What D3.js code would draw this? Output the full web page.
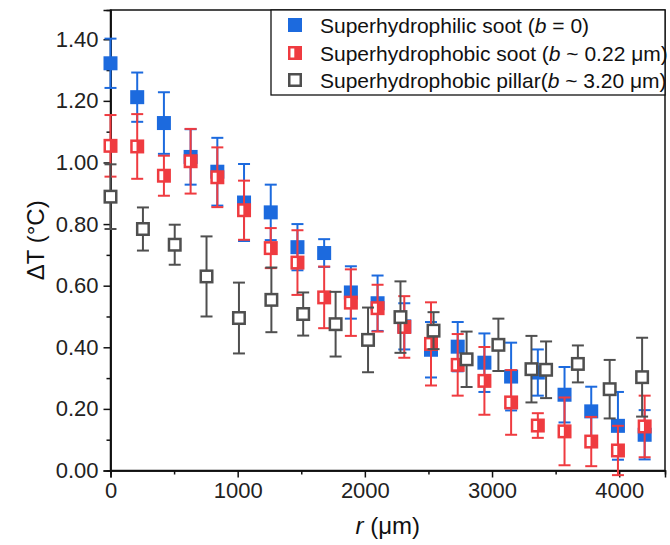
<!DOCTYPE html>
<html>
<head>
<meta charset="utf-8">
<script src="https://cdn.jsdelivr.net/npm/d3@7"></script>
<style>
  html, body { margin: 0; padding: 0; background: #fff; }
  svg { display: block; }
  text { font-family: "Liberation Sans", Arial, Helvetica, sans-serif; }
</style>
</head>
<body>
<svg id="chart" width="670" height="545"></svg>
<script>
// Radial position r (µm) for the soot samples and the pillar sample
const xSoot = [0, 210, 420, 630, 840, 1050, 1260, 1470, 1680, 1890, 2100,
               2310, 2520, 2730, 2940, 3150, 3360, 3570, 3780, 3990, 4200];
const xPillar = [0, 255, 505, 755, 1010, 1265, 1515, 1770, 2025, 2280, 2540,
                 2800, 3050, 3310, 3425, 3675, 3925, 4180];

// ΔT (°C) and error half-widths
const philicSoot = [1.322, 1.212, 1.128, 1.018, 0.970, 0.870, 0.838, 0.725, 0.706, 0.578, 0.543,
                    0.468, 0.392, 0.402, 0.350, 0.305, 0.318, 0.246, 0.192, 0.145, 0.116];
const philicSootErr = [0.08, 0.08, 0.10, 0.09, 0.11, 0.125, 0.09, 0.075, 0.045, 0.085, 0.09,
                       0.075, 0.09, 0.08, 0.095, 0.11, 0.075, 0.09, 0.08, 0.11, 0.08];

const phobicSoot = [1.054, 1.052, 0.957, 1.004, 0.952, 0.845, 0.722, 0.675, 0.562, 0.545, 0.527,
                    0.466, 0.411, 0.343, 0.291, 0.221, 0.146, 0.127, 0.094, 0.065, 0.143];
const phobicSootErr = [0.10, 0.105, 0.065, 0.105, 0.097, 0.096, 0.065, 0.105, 0.10, 0.108, 0.076,
                       0.10, 0.135, 0.10, 0.11, 0.105, 0.04, 0.11, 0.08, 0.08, 0.10];

const phobicPillar = [0.889, 0.784, 0.733, 0.630, 0.495, 0.554, 0.508, 0.475, 0.424, 0.498,
                      0.454, 0.361, 0.408, 0.329, 0.327, 0.346, 0.264, 0.303];
const phobicPillarErr = [0.105, 0.07, 0.065, 0.13, 0.115, 0.105, 0.07, 0.105, 0.105, 0.116,
                         0.06, 0.09, 0.085, 0.108, 0.092, 0.06, 0.095, 0.128];

const xTicks = [0, 1000, 2000, 3000, 4000];
const xMinorTicks = [500, 1500, 2500, 3500];
const yTicks = [0, 0.2, 0.4, 0.6, 0.8, 1.0, 1.2, 1.4];
const yMinorTicks = [0.1, 0.3, 0.5, 0.7, 0.9, 1.1, 1.3];

const BLUE = "#1c6ade";
const RED = "#ef3b40";
const GRAY = "#4f4f4f";

const svg = d3.select("#chart");
const plotL = 110.5, plotR = 665, plotT = 10, plotB = 470.5;

const x = d3.scaleLinear().domain([0, 4360]).range([plotL, plotR]);
const y = d3.scaleLinear().domain([0, 1.495]).range([plotB, plotT]);

// Frame
svg.append("rect")
  .attr("x", plotL).attr("y", plotT)
  .attr("width", plotR - plotL).attr("height", plotB - plotT)
  .attr("fill", "none").attr("stroke", "#111").attr("stroke-width", 1.5);

// Axes
const axisStyle = g => {
  g.select(".domain").attr("stroke", "#111").attr("stroke-width", 1.5);
  g.selectAll(".tick line").attr("stroke", "#111").attr("stroke-width", 1.5);
  g.selectAll(".tick text").attr("fill", "#222").style("font-size", "22px");
};

svg.append("g")
  .attr("transform", `translate(0,${plotB})`)
  .call(d3.axisBottom(x).tickValues(xMinorTicks).tickSize(4).tickFormat(""))
  .call(axisStyle);
svg.append("g")
  .attr("transform", `translate(0,${plotB})`)
  .call(d3.axisBottom(x).tickValues(xTicks).tickSize(7).tickPadding(5).tickFormat(d3.format("d")))
  .call(axisStyle);

svg.append("g")
  .attr("transform", `translate(${plotL},0)`)
  .call(d3.axisLeft(y).tickValues(yMinorTicks).tickSize(4).tickFormat(""))
  .call(axisStyle);
svg.append("g")
  .attr("transform", `translate(${plotL},0)`)
  .call(d3.axisLeft(y).tickValues(yTicks).tickSize(7).tickPadding(5).tickFormat(d3.format(".2f")))
  .call(axisStyle);

// Axis titles
svg.append("text")
  .attr("transform", `translate(44,${(plotT + plotB) / 2}) rotate(-90)`)
  .attr("text-anchor", "middle")
  .attr("fill", "#111")
  .style("font-size", "24px")
  .text("ΔT (°C)");

const xTitle = svg.append("text")
  .attr("x", (plotL + plotR) / 2).attr("y", 534)
  .attr("text-anchor", "middle")
  .attr("fill", "#111")
  .style("font-size", "24px");
xTitle.append("tspan").style("font-style", "italic").text("r");
xTitle.append("tspan").text(" (μm)");

// Series
const MS = 14;     // marker side
const CAP = 12;    // error cap width

function errorBars(xs, ys, es, color) {
  const g = svg.append("g").attr("stroke", color).attr("stroke-width", 2).attr("fill", "none");
  const data = xs.map((d, i) => ({ x: d, y: ys[i], e: es[i] }));
  g.selectAll("line.v").data(data).join("line")
    .attr("x1", d => x(d.x)).attr("x2", d => x(d.x))
    .attr("y1", d => y(d.y + d.e)).attr("y2", d => y(d.y - d.e));
  g.selectAll("line.t").data(data).join("line")
    .attr("x1", d => x(d.x) - CAP / 2).attr("x2", d => x(d.x) + CAP / 2)
    .attr("y1", d => y(d.y + d.e)).attr("y2", d => y(d.y + d.e));
  g.selectAll("line.b").data(data).join("line")
    .attr("x1", d => x(d.x) - CAP / 2).attr("x2", d => x(d.x) + CAP / 2)
    .attr("y1", d => y(d.y - d.e)).attr("y2", d => y(d.y - d.e));
  return data;
}

function filledSquare(g, cx, cy, color) {
  g.append("rect")
    .attr("x", cx - MS / 2).attr("y", cy - MS / 2)
    .attr("width", MS).attr("height", MS)
    .attr("fill", color);
}

function halfSquare(g, cx, cy, color) {
  g.append("rect")
    .attr("x", cx - MS / 2).attr("y", cy - MS / 2)
    .attr("width", MS).attr("height", MS)
    .attr("fill", color);
  g.append("rect")
    .attr("x", cx - MS / 2 + 2.5).attr("y", cy - MS / 2 + 2.5)
    .attr("width", MS / 2 - 3.2).attr("height", MS - 5)
    .attr("fill", "#fff");
}

function openSquare(g, cx, cy, color) {
  g.append("rect")
    .attr("x", cx - MS / 2 + 1.25).attr("y", cy - MS / 2 + 1.25)
    .attr("width", MS - 2.5).attr("height", MS - 2.5)
    .attr("fill", "#fff").attr("stroke", color).attr("stroke-width", 2.5);
}

// Superhydrophilic soot
const dBlue = errorBars(xSoot, philicSoot, philicSootErr, BLUE);
const gBlue = svg.append("g");
dBlue.forEach(d => filledSquare(gBlue, x(d.x), y(d.y), BLUE));

// Superhydrophobic soot
const dRed = errorBars(xSoot, phobicSoot, phobicSootErr, RED);
const gRed = svg.append("g");
dRed.forEach(d => halfSquare(gRed, x(d.x), y(d.y), RED));

// Superhydrophobic pillar
const dGray = errorBars(xPillar, phobicPillar, phobicPillarErr, GRAY);
const gGray = svg.append("g");
dGray.forEach(d => openSquare(gGray, x(d.x), y(d.y), GRAY));

// Legend
const legend = svg.append("g");
legend.append("rect")
  .attr("x", 271).attr("y", plotT)
  .attr("width", plotR - 271).attr("height", 85)
  .attr("fill", "#fff").attr("stroke", "#111").attr("stroke-width", 1.3);

const legendRows = [
  { y: 25, draw: (g, cx, cy) => filledSquare(g, cx, cy, BLUE),
    parts: ["Superhydrophilic soot (", "b", " = 0)"] },
  { y: 53, draw: (g, cx, cy) => halfSquare(g, cx, cy, RED),
    parts: ["Superhydrophobic soot (", "b", " ~ 0.22 μm)"] },
  { y: 80, draw: (g, cx, cy) => openSquare(g, cx, cy, GRAY),
    parts: ["Superhydrophobic pillar(", "b", " ~ 3.20 μm)"] }
];
legendRows.forEach(row => {
  row.draw(legend, 295, row.y);
  const t = legend.append("text")
    .attr("x", 320).attr("y", row.y)
    .attr("dy", "0.36em")
    .attr("fill", "#111")
    .style("font-size", "21px");
  row.parts.forEach((p, i) => {
    t.append("tspan").style("font-style", i === 1 ? "italic" : "normal").text(p);
  });
});
</script>
</body>
</html>
